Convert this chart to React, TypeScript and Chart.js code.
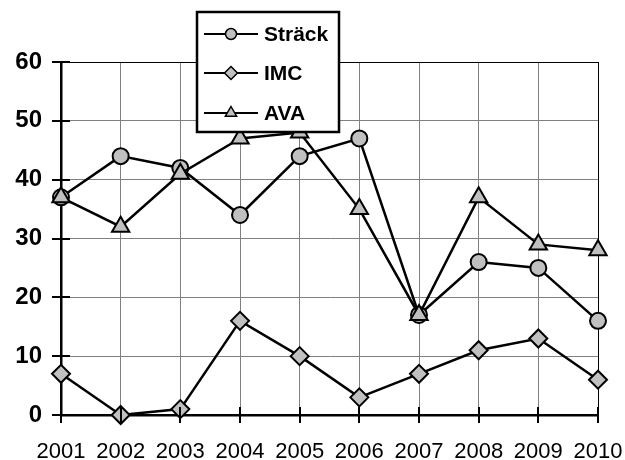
import React, { useEffect, useRef } from "react";
import { Chart, registerables } from "chart.js";

Chart.register(...registerables);

const years = ["2001", "2002", "2003", "2004", "2005", "2006", "2007", "2008", "2009", "2010"];
const strack = [37, 44, 42, 34, 44, 47, 17, 26, 25, 16];
const imc = [7, 0, 1, 16, 10, 3, 7, 11, 13, 6];
const ava = [37, 32, 41, 47, 48, 35, 17, 37, 29, 28];
const yTicks = [0, 10, 20, 30, 40, 50, 60];

const FONT = '"Liberation Sans", Arial, sans-serif';
const MARKER = "#c0c0c0";

function drawMarker(ctx: CanvasRenderingContext2D, style: string, x: number, y: number, r: number) {
  ctx.beginPath();
  if (style === "circle") {
    ctx.arc(x, y, r, 0, Math.PI * 2);
  } else if (style === "rectRot") {
    ctx.moveTo(x, y - r);
    ctx.lineTo(x + r, y);
    ctx.lineTo(x, y + r);
    ctx.lineTo(x - r, y);
    ctx.closePath();
  } else {
    ctx.moveTo(x, y - r);
    ctx.lineTo(x + r * 0.866, y + r * 0.5);
    ctx.lineTo(x - r * 0.866, y + r * 0.5);
    ctx.closePath();
  }
  ctx.fill();
  ctx.stroke();
}

const axisPlugin = {
  id: "axisTicks",
  afterDatasetsDraw(chart: any) {
    const ctx = chart.ctx;
    const area = chart.chartArea;
    const xs = chart.scales.x;
    const ys = chart.scales.y;
    ctx.save();
    ctx.strokeStyle = "#000";
    ctx.lineWidth = 2;
    ctx.beginPath();
    yTicks.forEach((v) => {
      const y = Math.round(ys.getPixelForValue(v));
      ctx.moveTo(area.left - 9, y);
      ctx.lineTo(area.left + 9, y);
    });
    years.forEach((_, i) => {
      const x = Math.round(xs.getPixelForValue(i));
      ctx.moveTo(x, area.bottom - 8);
      ctx.lineTo(x, area.bottom + 8);
    });
    ctx.stroke();
    ctx.restore();
  },
  afterDraw(chart: any) {
    const ctx = chart.ctx;
    ctx.save();
    const bx = 197, by = 12, bw = 142, bh = 120;
    ctx.fillStyle = "#fff";
    ctx.fillRect(bx, by, bw, bh);
    ctx.strokeStyle = "#000";
    ctx.lineWidth = 2.5;
    ctx.strokeRect(bx, by, bw, bh);
    const rows = [34, 73, 113];
    chart.data.datasets
      .slice()
      .sort((a: any, b: any) => a.legendIndex - b.legendIndex)
      .forEach((ds: any, i: number) => {
        const y = rows[i];
        ctx.strokeStyle = "#000";
        ctx.lineWidth = 2;
        ctx.beginPath();
        ctx.moveTo(204, y);
        ctx.lineTo(258, y);
        ctx.stroke();
        ctx.fillStyle = MARKER;
        ctx.strokeStyle = "#000";
        ctx.lineWidth = 1.5;
        const r = ds.pointStyle === "circle" ? 5.5 : 6.5;
        drawMarker(ctx, ds.pointStyle, 231, y, r);
        ctx.fillStyle = "#000";
        ctx.font = `bold 21px ${FONT}`;
        ctx.textBaseline = "middle";
        ctx.textAlign = "left";
        ctx.fillText(ds.label, 264, y + 1);
      });
    ctx.restore();
  },
};

export default function App() {
  const ref = useRef<HTMLCanvasElement>(null);
  useEffect(() => {
    document.body.style.margin = "0";
    const common = {
      borderColor: "#000",
      borderWidth: 2.5,
      pointBackgroundColor: MARKER,
      pointBorderColor: "#000",
      pointBorderWidth: 2,
      tension: 0,
      clip: false as any,
    };
    const chart = new Chart(ref.current!, {
      type: "line",
      data: {
        labels: years,
        datasets: [
          { ...common, label: "Sträck", data: strack, pointStyle: "circle", pointRadius: 8, order: 2, legendIndex: 0 } as any,
          { ...common, label: "IMC", data: imc, pointStyle: "rectRot", pointRadius: 9, order: 1, legendIndex: 1 } as any,
          { ...common, label: "AVA", data: ava, pointStyle: "triangle", pointRadius: 10, order: 0, legendIndex: 2 } as any,
        ],
      },
      options: {
        animation: false,
        responsive: false,
        events: [],
        layout: { padding: { top: 62, right: 27, left: 0, bottom: 0 } },
        plugins: { legend: { display: false }, tooltip: { enabled: false } },
        scales: {
          x: {
            offset: false,
            grid: {
              color: (c: any) => (c.index === years.length - 1 ? "#000" : "#808080"),
              lineWidth: 1,
              drawTicks: false,
            },
            border: { color: "#000", width: 2.5 },
            ticks: {
              color: "#000",
              font: { family: FONT, size: 22 },
              padding: 24,
              maxRotation: 0,
              autoSkip: false,
            },
            afterFit: (s: any) => {
              s.height = 45;
              s.paddingLeft = 0;
              s.paddingRight = 0;
            },
          },
          y: {
            min: 0,
            max: 60,
            grid: {
              color: (c: any) => (c.tick && c.tick.value === 60 ? "#000" : "#808080"),
              lineWidth: 1,
              drawTicks: false,
            },
            border: { color: "#000", width: 2.5 },
            ticks: {
              stepSize: 10,
              color: "#000",
              font: { family: FONT, size: 24, weight: "bold" },
              padding: 19,
            },
            afterFit: (s: any) => {
              s.width = 61;
              s.paddingTop = 0;
              s.paddingBottom = 0;
            },
          },
        },
      },
      plugins: [axisPlugin],
    });
    return () => chart.destroy();
  }, []);
  return <canvas ref={ref} width={625} height={460} style={{ display: "block" }} />;
}
